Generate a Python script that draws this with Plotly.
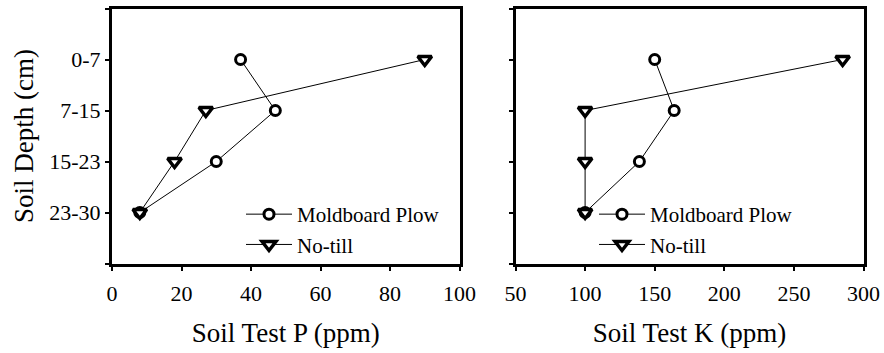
import plotly.graph_objects as go

depths = ["0-7", "7-15", "15-23", "23-30"]
depth_pos = [0, 1, 2, 3]

p_moldboard = [37, 47, 30, 8]
p_notill = [90, 27, 18, 8]
k_moldboard = [150, 164, 139, 100]
k_notill = [285, 100, 100, 100]

p_ticks = [0, 20, 40, 60, 80, 100]
k_ticks = [50, 100, 150, 200, 250, 300]

FONT = "Liberation Serif, Times New Roman, Times, serif"
W, H = 884, 353

fig = go.Figure()

def add_pair(xm, xn, xa, ya, legend):
    fig.add_trace(go.Scatter(
        x=xm, y=depth_pos, mode="lines+markers", name="Moldboard Plow",
        xaxis=xa, yaxis=ya, legend=legend,
        line=dict(color="black", width=1),
        marker=dict(symbol="circle", size=10, color="white",
                    line=dict(color="black", width=3)),
    ))
    fig.add_trace(go.Scatter(
        x=xn, y=depth_pos, mode="lines+markers", name="No-till",
        xaxis=xa, yaxis=ya, legend=legend,
        line=dict(color="black", width=1),
        marker=dict(symbol="triangle-down", size=12, color="white",
                    line=dict(color="black", width=3.5)),
    ))

add_pair(p_moldboard, p_notill, "x", "y", "legend")
add_pair(k_moldboard, k_notill, "x2", "y2", "legend2")

axis_common = dict(
    showline=True, linecolor="black", linewidth=3, mirror=True,
    ticks="outside", ticklen=4, tickwidth=2, tickcolor="black",
    showgrid=False, zeroline=False, automargin=False,
    tickfont=dict(family=FONT, size=22, color="black"),
)

ydom = [1 - 263.5 / H, 1 - 8.5 / H]
yticks = [-1, 0, 1, 2, 3, 4]
title_font = dict(family=FONT, size=27, color="black")

legend_common = dict(
    xanchor="left", yanchor="top", bgcolor="rgba(0,0,0,0)",
    font=dict(family=FONT, size=21, color="black"),
    tracegroupgap=0, itemwidth=46,
)

fig.update_layout(
    width=W, height=H,
    margin=dict(l=0, r=0, t=0, b=0, autoexpand=False),
    paper_bgcolor="white", plot_bgcolor="white",
    font=dict(family=FONT, color="black"),
    xaxis=dict(domain=[112 / W, 459.5 / W], range=[0, 100],
               tickvals=p_ticks, ticklabelstandoff=4,
               title=dict(text="Soil Test P (ppm)", font=title_font, standoff=19),
               anchor="y", **axis_common),
    yaxis=dict(domain=ydom, range=[4, -1], tickvals=yticks,
               ticktext=[""] + depths + [""],
               title=dict(text="Soil Depth (cm)", font=title_font, standoff=8),
               anchor="x", **axis_common),
    xaxis2=dict(domain=[515.5 / W, 863.5 / W], range=[50, 300],
                tickvals=k_ticks, ticklabelstandoff=4,
                title=dict(text="Soil Test K (ppm)", font=title_font, standoff=19),
                anchor="y2", **axis_common),
    yaxis2=dict(domain=ydom, range=[4, -1], tickvals=yticks,
                ticktext=[""] * 6, anchor="x2", **axis_common),
    legend=dict(x=241 / W, y=1 - 194 / H, **legend_common),
    legend2=dict(x=594 / W, y=1 - 194 / H, **legend_common),
)

fig.write_html("out.html", config={"displayModeBar": False},
               post_script="document.body.style.margin='0px';")
